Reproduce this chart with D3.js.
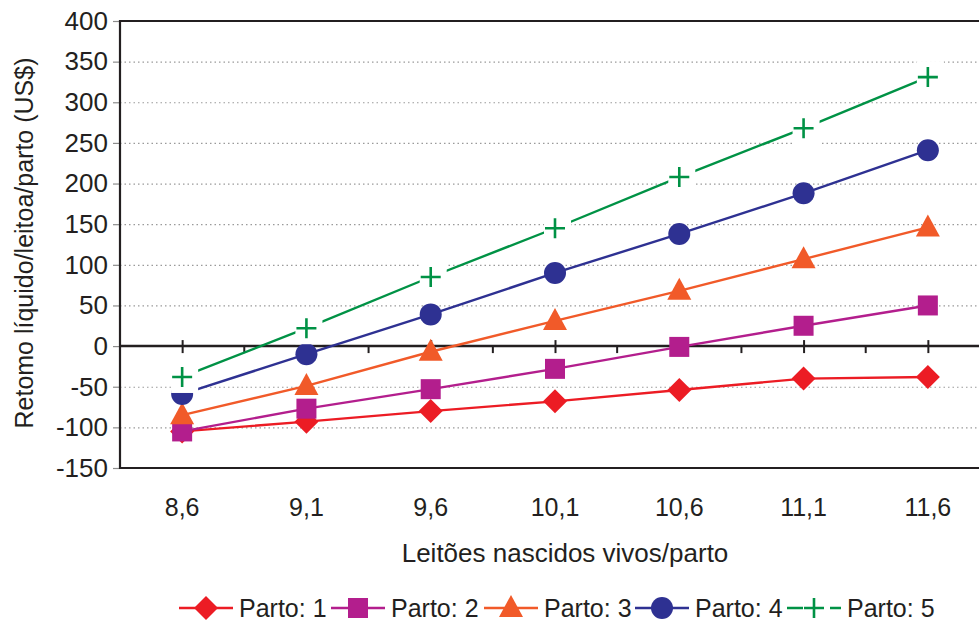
<!DOCTYPE html>
<html>
<head>
<meta charset="utf-8">
<script src="https://cdn.jsdelivr.net/npm/d3@7"></script>
<style>
  body { margin: 0; background: #fff; }
  svg { display: block; font-family: "Liberation Sans", Arial, sans-serif; }
</style>
</head>
<body>
<div class="chart"></div>
<script>
const categories = ['8,6', '9,1', '9,6', '10,1', '10,6', '11,1', '11,6'];
const yTicks = [-150, -100, -50, 0, 50, 100, 150, 200, 250, 300, 350, 400];

const parto1 = [-105, -93, -80, -68, -54, -40, -38];
const parto2 = [-105, -77, -53, -28, -1, 25, 50];
const parto3 = [-85, -49, -7, 31, 68, 107, 146];
const parto4 = [-59, -10, 39, 90, 138, 188, 241];
const parto5 = [-38, 22, 85, 145, 208, 268, 331];

const seriesNames = ['Parto: 1', 'Parto: 2', 'Parto: 3', 'Parto: 4', 'Parto: 5'];
const seriesValues = [parto1, parto2, parto3, parto4, parto5];
const colors = ['#ec1c24', '#b31e8d', '#f15a29', '#2e3192', '#009245'];
const symbols = ['diamond', 'square', 'triangle', 'circle', 'plus'];

const width = 979;
const height = 624;
const margin = { top: 21, left: 120, bottom: 468, right: 990 };

const svg = d3
  .select('.chart')
  .append('svg')
  .attr('width', width)
  .attr('height', height);

const x = d3
  .scalePoint()
  .domain(categories)
  .range([margin.left, margin.right])
  .padding(0.5);

const y = d3
  .scaleLinear()
  .domain([-150, 400])
  .range([margin.bottom, margin.top]);

// dotted gridlines
svg
  .append('g')
  .selectAll('line')
  .data(yTicks.filter((d) => d !== -150 && d !== 0 && d !== 400))
  .enter()
  .append('line')
  .attr('x1', margin.left)
  .attr('x2', margin.right)
  .attr('y1', (d) => y(d) + 0.5)
  .attr('y2', (d) => y(d) + 0.5)
  .attr('stroke', '#9a9a9a')
  .attr('stroke-width', 1.2)
  .attr('stroke-dasharray', '1.5,3');

// y axis with gray ticks
const yAxis = svg
  .append('g')
  .attr('transform', `translate(${margin.left}, 0)`)
  .call(
    d3
      .axisLeft(y)
      .tickValues(yTicks)
      .tickFormat((d) => String(d))
      .tickSize(7)
      .tickPadding(5)
      .tickSizeOuter(0)
  );
yAxis.select('.domain').remove();
yAxis.selectAll('.tick line').attr('stroke', '#8c8c8c').attr('stroke-width', 1.2);
yAxis
  .selectAll('.tick text')
  .attr('font-size', '26px')
  .attr('fill', '#231f20')
  .attr('font-family', '"Liberation Sans", Arial, sans-serif');

// frame: top, bottom, left
svg
  .append('path')
  .attr('d', `M${margin.right},${margin.top}H${margin.left}V${margin.bottom}H${margin.right}`)
  .attr('fill', 'none')
  .attr('stroke', '#231f20')
  .attr('stroke-width', 2.2);

// zero line with category ticks
const xAxis = svg
  .append('g')
  .attr('transform', `translate(0, ${y(0)})`)
  .call(d3.axisBottom(x).tickSize(7).tickFormat(''));
xAxis.select('.domain').attr('d', `M${margin.left},0H${margin.right}`).attr('stroke', '#231f20').attr('stroke-width', 2.5);
xAxis.selectAll('.tick line').attr('y1', -6).attr('stroke', '#231f20').attr('stroke-width', 2);
const midTicks = categories.slice(0, -1).map((c, i) => (x(c) + x(categories[i + 1])) / 2);
xAxis
  .selectAll('.mid')
  .data(midTicks)
  .enter()
  .append('line')
  .attr('x1', (d) => d)
  .attr('x2', (d) => d)
  .attr('y1', 0)
  .attr('y2', 7)
  .attr('stroke', '#231f20')
  .attr('stroke-width', 2);

// x tick labels below the frame
svg
  .append('g')
  .selectAll('text')
  .data(categories)
  .enter()
  .append('text')
  .attr('x', (d) => x(d))
  .attr('y', 516)
  .attr('text-anchor', 'middle')
  .attr('font-size', '25px')
  .attr('fill', '#231f20')
  .text((d) => d);

// axis titles
svg
  .append('text')
  .attr('x', 565)
  .attr('y', 562)
  .attr('text-anchor', 'middle')
  .attr('font-size', '26px')
  .attr('fill', '#231f20')
  .text('Leitões nascidos vivos/parto');

svg
  .append('text')
  .attr('transform', 'translate(33, 243) rotate(-90)')
  .attr('text-anchor', 'middle')
  .attr('font-size', '25px')
  .attr('fill', '#231f20')
  .text('Retomo líquido/leitoa/parto (US$)');

// marker drawing
const drawMarker = (g, type, color, cx, cy) => {
  if (type === 'diamond') {
    g.append('path')
      .attr('d', `M${cx},${cy - 12}L${cx + 12},${cy}L${cx},${cy + 12}L${cx - 12},${cy}Z`)
      .attr('fill', color);
  } else if (type === 'square') {
    g.append('rect')
      .attr('x', cx - 10)
      .attr('y', cy - 10)
      .attr('width', 20)
      .attr('height', 20)
      .attr('fill', color);
  } else if (type === 'triangle') {
    g.append('path')
      .attr('d', `M${cx},${cy - 13}L${cx + 12},${cy + 9}L${cx - 12},${cy + 9}Z`)
      .attr('fill', color);
  } else if (type === 'circle') {
    g.append('circle').attr('cx', cx).attr('cy', cy).attr('r', 11).attr('fill', color);
  } else if (type === 'plus') {
    g.append('rect')
      .attr('x', cx - 11)
      .attr('y', cy - 16)
      .attr('width', 27)
      .attr('height', 32)
      .attr('fill', '#fff');
    g.append('path')
      .attr('d', `M${cx - 10},${cy}H${cx + 10}M${cx},${cy - 10}V${cy + 10}`)
      .attr('stroke', color)
      .attr('stroke-width', 2.6)
      .attr('fill', 'none');
  }
};

const line = d3
  .line()
  .x((d, i) => x(categories[i]))
  .y((d) => y(d));

const plot = svg.append('g');
seriesValues.forEach((values, s) => {
  const g = plot.append('g');
  g.append('path')
    .datum(values)
    .attr('d', line)
    .attr('fill', 'none')
    .attr('stroke', colors[s])
    .attr('stroke-width', 2.4);
  values.forEach((v, i) => drawMarker(g, symbols[s], colors[s], x(categories[i]), y(v)));
});

// legend
const legendX = [179, 331, 484, 635, 787];
const legend = svg.append('g');
seriesNames.forEach((name, s) => {
  const g = legend.append('g');
  const x0 = legendX[s];
  const ly = 608;
  g.append('line')
    .attr('x1', x0)
    .attr('x2', x0 + 54)
    .attr('y1', ly)
    .attr('y2', ly)
    .attr('stroke', colors[s])
    .attr('stroke-width', 2.4);
  drawMarker(g, symbols[s], colors[s], x0 + 27, ly);
  g.append('text')
    .attr('x', x0 + 60)
    .attr('y', 617)
    .attr('font-size', '25px')
    .attr('fill', '#231f20')
    .text(name);
});
</script>
</body>
</html>
